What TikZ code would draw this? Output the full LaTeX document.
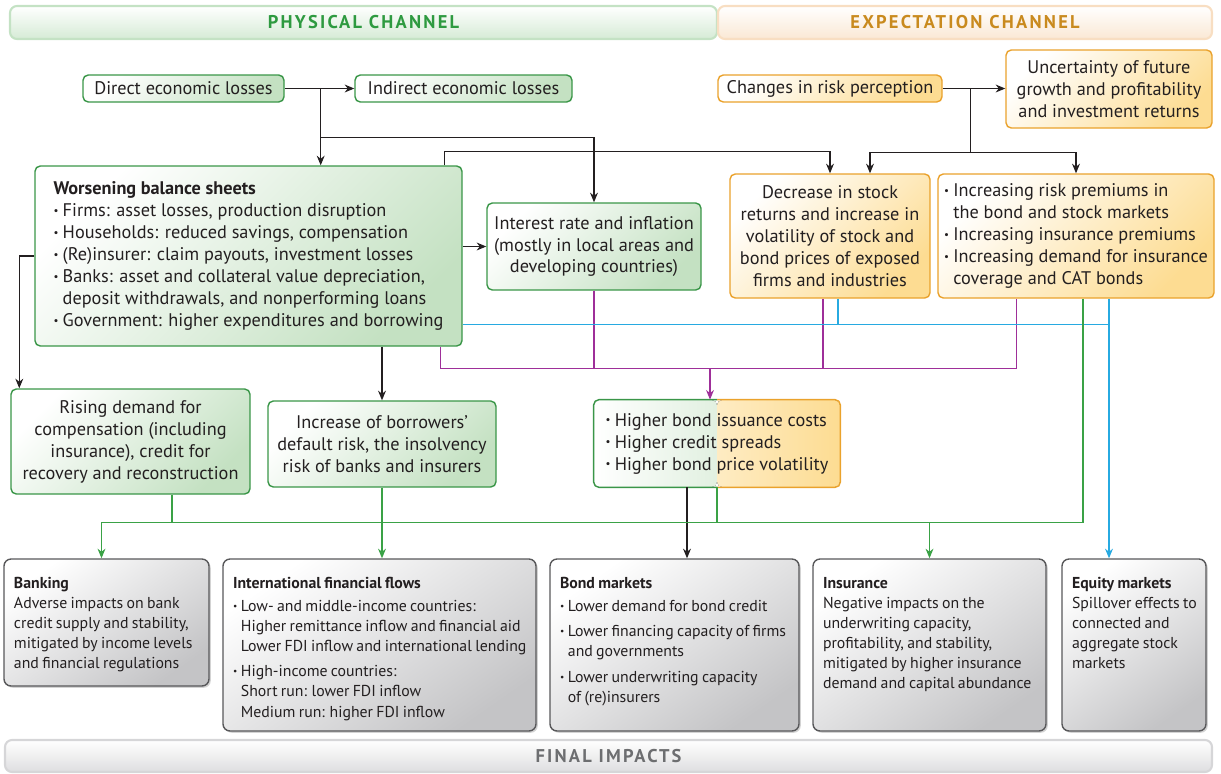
\documentclass[tikz,border=0pt]{standalone}
\usepackage{fontspec}
\setmainfont{PT Sans}
\usetikzlibrary{arrows.meta, positioning, calc, shadows}

\definecolor{ink}{RGB}{35,31,32}
\definecolor{gedge}{RGB}{58,150,72}
\definecolor{gfill}{RGB}{196,225,194}
\definecolor{oedge}{RGB}{234,162,44}
\definecolor{ofill}{RGB}{253,220,146}
\definecolor{fedge}{RGB}{88,88,90}
\definecolor{ffill}{RGB}{196,196,198}
\definecolor{gban}{RGB}{196,226,196}
\definecolor{oban}{RGB}{248,222,194}
\definecolor{fban}{RGB}{214,214,216}
\definecolor{gtitle}{RGB}{46,154,64}
\definecolor{otitle}{RGB}{201,138,30}
\definecolor{ftitle}{RGB}{109,110,112}
\definecolor{purpc}{RGB}{158,47,153}
\definecolor{cyanc}{RGB}{39,170,225}
\definecolor{greenc}{RGB}{58,162,70}

\newcommand{\bpt}{\makebox[0.5em][l]{\raisebox{0.25ex}{\scalebox{0.6}{\textbullet}}}}
\newcommand{\bind}{\hspace*{0.5em}}
\newcommand{\finfont}{\fontsize{9}{11.4}\selectfont\setlength{\spaceskip}{0.21em plus 0.1em minus 0.05em}}

\begin{document}
\begin{tikzpicture}[
    font=\fontsize{10.4}{12.5}\selectfont, text=ink,
    gbox/.style={rectangle, draw=gedge, line width=0.8pt, rounded corners=3pt, top color=white, bottom color=gfill, shading angle=45, align=center, inner sep=2pt},
    obox/.style={rectangle, draw=oedge, line width=0.8pt, rounded corners=3pt, top color=white, bottom color=ofill, shading angle=45, align=center, inner sep=2pt},
    bondbox/.style={rectangle, rounded corners=3pt, align=left, inner sep=2pt,
        path picture={
            \fill[left color=white, right color=gfill] (path picture bounding box.south west) rectangle (path picture bounding box.north);
            \fill[left color=ofill!55, right color=ofill] (path picture bounding box.south) rectangle (path picture bounding box.north east);
        }},
    finalbox/.style={rectangle, draw=fedge, line width=0.8pt, rounded corners=4pt, top color=white, bottom color=ffill, shading angle=35, drop shadow={opacity=0.35, shadow xshift=1pt, shadow yshift=-1pt}, inner xsep=0.2cm, inner ysep=0.3cm, font=\finfont},
    banner/.style={rectangle, rounded corners=4pt, line width=1.2pt, font=\bfseries\fontsize{10.5}{12}\selectfont\addfontfeature{LetterSpace=12}},
    link/.style={line width=0.6pt, draw=ink},
    arr/.style={link, -{Stealth[length=5.5pt, width=4.5pt]}},
    plink/.style={line width=0.6pt, draw=purpc},
    parr/.style={plink, -{Stealth[length=5.5pt, width=4.5pt]}},
    clink/.style={line width=0.65pt, draw=cyanc},
    carr/.style={clink, -{Stealth[length=5.5pt, width=4.5pt]}},
    glink/.style={line width=0.6pt, draw=greenc},
    garr/.style={glink, -{Stealth[length=5.5pt, width=4.5pt]}}
]
    \useasboundingbox (0,0) rectangle (24.42,-15.46);

    % Banners
    \node[banner, draw=gban, top color=white, bottom color=gban!70, text=gtitle, minimum width=14.14cm, minimum height=0.66cm] (physical) at (7.27,-0.45) {PHYSICAL CHANNEL};
    \node[banner, draw=oban, top color=white, bottom color=oban!70, text=otitle, minimum width=9.88cm, minimum height=0.66cm] (expect) at (19.3,-0.45) {EXPECTATION CHANNEL};
    \node[banner, draw=fban, top color=white, bottom color=fban!80, text=ftitle, minimum width=24.14cm, minimum height=0.64cm] (final) at (12.17,-15.12) {FINAL IMPACTS};

    % Row 1 -- losses and risk perception
    \node[gbox, minimum width=4.02cm, minimum height=0.54cm] (direct) at (3.67,-1.77) {Direct economic losses};
    \node[gbox, minimum width=4.34cm, minimum height=0.54cm] (indirect) at (9.27,-1.77) {Indirect economic losses};
    \node[obox, minimum width=4.48cm, minimum height=0.54cm] (risk) at (16.6,-1.77) {Changes in risk perception};
    \node[obox, minimum width=4.12cm, minimum height=1.56cm] (uncert) at (22.18,-1.78) {Uncertainty of future\\growth and profitability\\and investment returns};

    % Row 2 -- balance sheets, rates, markets
    \node[gbox, align=left, minimum width=8.54cm, minimum height=3.6cm] (worsening) at (4.97,-5.12) {\textbf{Worsening balance sheets}\\
        \bpt Firms: asset losses, production disruption\\
        \bpt Households: reduced savings, compensation\\
        \bpt (Re)insurer: claim payouts, investment losses\\
        \bpt Banks: asset and collateral value depreciation,\\
        \bind deposit withdrawals, and nonperforming loans\\
        \bpt Government: higher expenditures and borrowing};
    \node[gbox, minimum width=4.28cm, minimum height=1.74cm] (interest) at (11.88,-4.93) {Interest rate and inflation\\(mostly in local areas and\\developing countries)};
    \node[obox, minimum width=4.0cm, minimum height=2.48cm] (decrease) at (16.6,-4.72) {Decrease in stock\\returns and increase in\\volatility of stock and\\bond prices of exposed\\firms and industries};
    \node[obox, align=left, minimum width=5.52cm, minimum height=2.48cm] (premiums) at (21.52,-4.72) {\bpt Increasing risk premiums in\\
        \bind the bond and stock markets\\
        \bpt Increasing insurance premiums\\
        \bpt Increasing demand for insurance\\
        \bind coverage and CAT bonds};

    % Row 3 -- intermediate effects
    \node[gbox, minimum width=4.78cm, minimum height=2.1cm] (rising) at (2.61,-8.83) {Rising demand for\\compensation (including\\insurance), credit for\\recovery and reconstruction};
    \node[gbox, minimum width=4.56cm, minimum height=1.72cm] (borrowers) at (7.64,-8.88) {Increase of borrowers’\\default risk, the insolvency\\risk of banks and insurers};
    \node[bondbox, minimum width=4.92cm, minimum height=1.74cm] (bond) at (14.34,-8.87) {\bpt Higher bond issuance costs\\
        \bpt Higher credit spreads\\
        \bpt Higher bond price volatility};
    \begin{scope}
        \clip ($(bond.south west)+(-0.1,-0.1)$) rectangle ($(bond.north)+(0,0.1)$);
        \draw[gedge, line width=0.8pt, rounded corners=3pt] (bond.south west) rectangle (bond.north east);
    \end{scope}
    \begin{scope}
        \clip ($(bond.south)+(0,-0.1)$) rectangle ($(bond.north east)+(0.1,0.1)$);
        \draw[oedge, line width=0.8pt, rounded corners=3pt] (bond.south west) rectangle (bond.north east);
    \end{scope}

    % Row 4 -- final impacts
    \node[finalbox] (banking) at (2.13,-12.45) {\parbox[c][1.94cm][t]{3.7cm}{\begin{tabular}[t]{@{}l@{}}\textbf{Banking}\\
        Adverse impacts on bank\\credit supply and stability,\\mitigated by income levels\\and financial regulations\end{tabular}}};
    \node[finalbox] (flows) at (7.59,-12.9) {\parbox[c][2.84cm][t]{5.86cm}{\begin{tabular}[t]{@{}l@{}}\textbf{International financial flows}\\[2pt]
        \bpt Low- and middle-income countries:\\
        \bind Higher remittance inflow and financial aid\\
        \bind Lower FDI inflow and international lending\\[3pt]
        \bpt High-income countries:\\
        \bind Short run: lower FDI inflow\\
        \bind Medium run: higher FDI inflow\end{tabular}}};
    \node[finalbox] (bondmkt) at (13.49,-12.9) {\parbox[c][2.84cm][t]{4.58cm}{\begin{tabular}[t]{@{}l@{}}\textbf{Bond markets}\\[2pt]
        \bpt Lower demand for bond credit\\[3pt]
        \bpt Lower financing capacity of firms\\
        \bind and governments\\[3pt]
        \bpt Lower underwriting capacity\\
        \bind of (re)insurers\end{tabular}}};
    \node[finalbox] (insurance) at (18.59,-12.9) {\parbox[c][2.84cm][t]{4.26cm}{\begin{tabular}[t]{@{}l@{}}\textbf{Insurance}\\
        Negative impacts on the\\underwriting capacity,\\profitability, and stability,\\mitigated by higher insurance\\demand and capital abundance\end{tabular}}};
    \node[finalbox] (equity) at (22.68,-12.9) {\parbox[c][2.84cm][t]{2.48cm}{\begin{tabular}[t]{@{}l@{}}\textbf{Equity markets}\\
        Spillover effects to\\connected and\\aggregate stock\\markets\end{tabular}}};

    % === Black connectors ===
    \draw[arr] (direct) -- (indirect);
    \coordinate (j1) at ($(direct.east)+(0.72,0)$);
    \draw[arr] (j1) -- (j1 |- worsening.north);
    \draw[arr] ($(j1)+(0,-0.98)$) -| (interest.north);
    \draw[arr] ($(worsening.north east)+(-0.36,0)$) -- ++(0,0.28) -| (decrease.north);
    \draw[arr] (risk.east) -- (risk.east -| uncert.west);
    \coordinate (j2) at ($(risk.east)+(0.56,0)$);
    \coordinate (j3) at ($(j2)+(0,-1.28)$);
    \draw[link] (j2) -- (j3);
    \draw[arr] (j3) -| ($(decrease.north)+(0.8,0)$);
    \draw[arr] (j3) -| (premiums.north);
    \draw[arr] (worsening.west) -| ($(rising.north west)+(0.18,0)$);
    \draw[arr] (worsening.east |- interest.west) -- (interest.west);
    \draw[arr] (worsening.south -| borrowers.north) -- (borrowers.north);
    \coordinate (bout) at ($(bond.south)+(-0.6,0)$);
    \draw[arr] (bout) -- (bout |- bondmkt.north);

    % === Purple: towards bond pricing ===
    \coordinate (pl) at ($(worsening.south east)+(-0.44,0)$);
    \coordinate (pbus) at ($(pl)+(0,-0.44)$);
    \coordinate (pr) at ($(premiums.south west)+(1.58,0)$);
    \draw[plink] (pl) |- (pbus -| pr) -- (pr);
    \draw[plink] (interest.south) -- (interest.south |- pbus);
    \coordinate (pd) at ($(decrease.south)+(-0.14,0)$);
    \draw[plink] (pd) -- (pd |- pbus);
    \coordinate (pin) at ($(bond.north)+(-0.14,0)$);
    \draw[parr] (pin |- pbus) -- (pin);

    % === Cyan: towards equity markets ===
    \coordinate (cin) at ($(equity.north)+(-0.5,0)$);
    \coordinate (cbus) at ($(worsening.south east)+(0,0.45)$);
    \draw[carr] (cin |- premiums.south) -- (cin);
    \draw[clink] (cbus) -- (cbus -| cin);
    \coordinate (cd) at ($(decrease.south)+(0.16,0)$);
    \draw[clink] (cd) -- (cd |- cbus);

    % === Green: towards banking, flows, insurance ===
    \coordinate (gr) at ($(premiums.south)+(0.14,0)$);
    \coordinate (gbus) at ($(gr)+(0,-4.48)$);
    \coordinate (gl) at ($(banking.north)+(-0.1,0)$);
    \draw[garr] (gr) -- (gbus) -| (gl);
    \coordinate (grs) at ($(rising.south)+(0.83,0)$);
    \draw[glink] (grs) -- (grs |- gbus);
    \draw[garr] (borrowers.south) -- (borrowers.south |- flows.north);
    \draw[glink] (bond.south) -- (bond.south |- gbus);
    \draw[garr] (insurance.north |- gbus) -- (insurance.north);

\end{tikzpicture}
\end{document}
